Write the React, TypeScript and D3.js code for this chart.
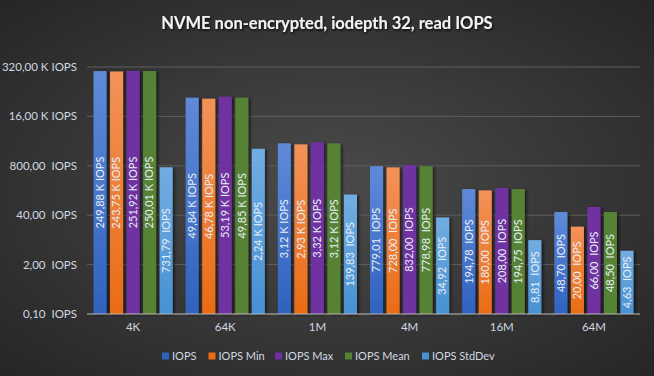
import React from "react";
import * as d3 from "d3";

const categories = ["4K", "64K", "1M", "4M", "16M", "64M"];
const seriesNames = ["IOPS", "IOPS Min", "IOPS Max", "IOPS Mean", "IOPS StdDev"];
const iops = [249880, 49840, 3120, 779.01, 194.78, 48.7];
const iopsMin = [243750, 46780, 2930, 728.0, 180.0, 20.0];
const iopsMax = [251920, 53190, 3320, 832.0, 208.0, 66.0];
const iopsMean = [250010, 49850, 3120, 778.98, 194.75, 48.5];
const iopsStd = [731.79, 2240, 139.83, 34.92, 8.81, 4.63];
const yTicks = [0.1, 2, 40, 800, 16000, 320000];

const seriesValues = [iops, iopsMin, iopsMax, iopsMean, iopsStd];
const colorsTop = ["#5f8ad8", "#f39259", "#7030a0", "#548235", "#72ade2"];
const colorsBottom = ["#2f62bf", "#ea6c15", "#7030a0", "#548235", "#4791d3"];

const W = 654;
const H = 376;
const left = 87;
const right = 640;
const top = 67;
const bottom = 314;
const FONT = "Lato, 'Open Sans', sans-serif";

function fmt(v: number): string {
  if (v >= 1000) return (v / 1000).toFixed(2).replace(".", ",") + " K IOPS";
  return v.toFixed(2).replace(".", ",") + "  IOPS";
}

export default function App() {
  const x0 = d3.scaleBand<string>().domain(categories).range([left, right]).padding(0);
  const x1 = d3
    .scaleBand<string>()
    .domain(seriesNames)
    .range([6.5, x0.bandwidth() - 6.5])
    .paddingInner(0.21)
    .paddingOuter(0);
  const y = d3.scaleLog().domain([0.1, 320000]).range([bottom, top]);

  const legendX = [165, 211.5, 278, 348, 425];

  return (
    <svg
      width={W}
      height={H}
      style={{ position: "absolute", left: 0, top: 0, display: "block" }}
    >
      <defs>
        <radialGradient id="bg" cx="50%" cy="50%" r="70%">
          <stop offset="0%" stopColor="#4b4b4b" />
          <stop offset="100%" stopColor="#262626" />
        </radialGradient>
        {seriesNames.map((s, i) => (
          <linearGradient key={s} id={"g" + i} x1="0" y1="0" x2="0" y2="1">
            <stop offset="0%" stopColor={colorsTop[i]} />
            <stop offset="100%" stopColor={colorsBottom[i]} />
          </linearGradient>
        ))}
        <filter id="shadow" x="-30%" y="-10%" width="160%" height="120%">
          <feDropShadow dx="2" dy="1" stdDeviation="1.5" floodColor="#000" floodOpacity="0.55" />
        </filter>
        <filter id="tshadow" x="-10%" y="-30%" width="120%" height="160%">
          <feDropShadow dx="1" dy="1.5" stdDeviation="1" floodColor="#000" floodOpacity="0.8" />
        </filter>
      </defs>
      <rect x={0} y={0} width={W} height={H} fill="url(#bg)" />

      <text
        x={327}
        y={29}
        textAnchor="middle"
        fontFamily={FONT}
        fontWeight="bold"
        fontSize={16.5}
        fill="#f2f2f2"
        filter="url(#tshadow)"
      >
        NVME non-encrypted, iodepth 32, read IOPS
      </text>

      {yTicks.map((t) => (
        <g key={t}>
          {t !== 0.1 && (
            <line x1={left} x2={right} y1={y(t)} y2={y(t)} stroke="#5e5e5e" strokeWidth={1} />
          )}
          <text
            x={77}
            y={y(t)}
            dy="0.35em"
            textAnchor="end"
            fontFamily={FONT}
            fontSize={11.5}
            fill="#d0d8e0"
            style={{ whiteSpace: "pre" }}
          >
            {fmt(t)}
          </text>
        </g>
      ))}

      {categories.map((c, ci) => (
        <g key={c} transform={`translate(${x0(c)},0)`}>
          {seriesNames.map((s, si) => {
            const v = seriesValues[si][ci];
            const bx = x1(s)!;
            const by = y(v);
            return (
              <rect
                key={s}
                x={bx}
                y={by}
                width={x1.bandwidth()}
                height={bottom - by}
                fill={`url(#g${si})`}
                filter="url(#shadow)"
              />
            );
          })}
          {seriesNames.map((s, si) => {
            const v = seriesValues[si][ci];
            const cx = x1(s)! + x1.bandwidth() / 2;
            const cy = (y(v) + bottom) / 2;
            return (
              <text
                key={s}
                transform={`translate(${cx},${cy}) rotate(-90)`}
                textAnchor="middle"
                dy="0.35em"
                fontFamily={FONT}
                fontSize={11}
                fill="#e8eef5"
                style={{ whiteSpace: "pre" }}
              >
                {fmt(v)}
              </text>
            );
          })}
          <text
            x={x0.bandwidth() / 2}
            y={331}
            textAnchor="middle"
            fontFamily={FONT}
            fontSize={11.5}
            fill="#d0d8e0"
          >
            {c}
          </text>
        </g>
      ))}

      <line x1={left} x2={right} y1={bottom} y2={bottom} stroke="#bfbfbf" strokeWidth={1} />

      {seriesNames.map((s, i) => (
        <g key={s} transform={`translate(${legendX[i]},356)`}>
          <rect x={-3} y={-3.5} width={7} height={7} fill={colorsBottom[i]} />
          <text x={7} y={0} dy="0.35em" fontFamily={FONT} fontSize={11} fill="#d0d8e0">
            {s}
          </text>
        </g>
      ))}
    </svg>
  );
}
